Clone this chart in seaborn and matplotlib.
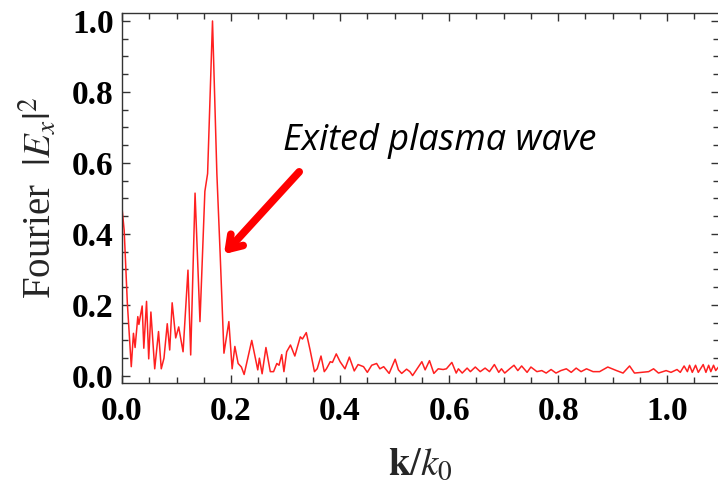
import matplotlib
matplotlib.use("Agg")
import matplotlib.pyplot as plt
from matplotlib.ticker import MultipleLocator
import seaborn as sns
import pandas as pd

# ----- Data -----
k_vals = [
    0.000, 0.004, 0.0098, 0.017, 0.021, 0.024, 0.029, 0.031, 0.037, 0.040,
    0.045, 0.049, 0.053, 0.060, 0.067, 0.072, 0.077, 0.083, 0.0875, 0.092,
    0.0985, 0.104, 0.112, 0.121, 0.126, 0.134, 0.143, 0.152, 0.157, 0.166,
    0.174, 0.180, 0.187, 0.196, 0.202, 0.207, 0.213, 0.219, 0.224, 0.238,
    0.249, 0.252, 0.257, 0.264, 0.272, 0.278, 0.284, 0.288, 0.293, 0.297,
    0.302, 0.309, 0.317, 0.327, 0.331, 0.338, 0.345, 0.353, 0.358, 0.365,
    0.371, 0.375, 0.382, 0.386, 0.393, 0.400, 0.409, 0.417, 0.426, 0.433,
    0.443, 0.450, 0.458, 0.467, 0.473, 0.480, 0.490, 0.501, 0.507, 0.513,
    0.522, 0.528, 0.533, 0.540, 0.550, 0.556, 0.564, 0.572, 0.580, 0.589,
    0.595, 0.605, 0.613, 0.617, 0.624, 0.633, 0.639, 0.648, 0.657, 0.666,
    0.674, 0.683, 0.691, 0.696, 0.702, 0.711, 0.719, 0.726, 0.733, 0.743,
    0.750, 0.761, 0.770, 0.778, 0.787, 0.796, 0.805, 0.815, 0.824, 0.833,
    0.842, 0.852, 0.864, 0.876, 0.891, 0.907, 0.919, 0.931, 0.940, 0.954,
    0.966, 0.975, 0.984, 0.998, 1.007, 1.018, 1.024, 1.031, 1.037, 1.041,
    1.046, 1.052, 1.057, 1.066, 1.071, 1.076, 1.080, 1.085, 1.089, 1.094,
]
fourier_ex2 = [
    0.473, 0.410, 0.205, 0.026, 0.120, 0.080, 0.167, 0.145, 0.197, 0.078,
    0.210, 0.048, 0.180, 0.020, 0.125, 0.020, 0.050, 0.147, 0.073, 0.206,
    0.107, 0.138, 0.068, 0.298, 0.059, 0.515, 0.153, 0.520, 0.570, 1.000,
    0.570, 0.345, 0.064, 0.153, 0.020, 0.083, 0.035, 0.025, 0.004, 0.100,
    0.017, 0.050, 0.006, 0.080, 0.012, 0.012, 0.035, 0.030, 0.060, 0.012,
    0.068, 0.087, 0.056, 0.110, 0.104, 0.122, 0.073, 0.012, 0.020, 0.056,
    0.012, 0.020, 0.040, 0.038, 0.062, 0.040, 0.020, 0.053, 0.014, 0.032,
    0.026, 0.010, 0.030, 0.035, 0.020, 0.026, 0.007, 0.047, 0.017, 0.007,
    0.019, 0.012, 0.001, 0.017, 0.040, 0.017, 0.043, 0.007, 0.020, 0.018,
    0.020, 0.038, 0.008, 0.020, 0.008, 0.022, 0.012, 0.025, 0.012, 0.022,
    0.012, 0.032, 0.010, 0.020, 0.008, 0.020, 0.030, 0.015, 0.028, 0.010,
    0.025, 0.012, 0.015, 0.008, 0.018, 0.008, 0.015, 0.020, 0.010, 0.022,
    0.012, 0.020, 0.012, 0.012, 0.025, 0.015, 0.008, 0.028, 0.008, 0.010,
    0.012, 0.020, 0.008, 0.015, 0.010, 0.018, 0.010, 0.028, 0.012, 0.030,
    0.010, 0.030, 0.010, 0.032, 0.010, 0.030, 0.012, 0.030, 0.015, 0.025,
]
annotation_text = "Exited plasma wave"

df = pd.DataFrame({"k": k_vals, "fourier": fourier_ex2})

# ----- Style -----
sns.set_style("ticks")
plt.rcParams.update({
    "font.family": ["Liberation Serif", "DejaVu Serif"],
    "mathtext.fontset": "stix",
    "axes.edgecolor": "#333333",
    "axes.linewidth": 1.0,
    "xtick.color": "#333333",
    "ytick.color": "#333333",
    "xtick.labelcolor": "black",
    "ytick.labelcolor": "black",
})

# ----- Setup -----
fig = plt.figure(figsize=(7.18, 4.87), dpi=100)
ax = fig.add_axes([122 / 718, 1 - 383 / 487, 597 / 718, 370 / 487])

sns.lineplot(data=df, x="k", y="fourier", sort=False, estimator=None,
             color="#ff2020", linewidth=1.1, ax=ax)

ax.set_xlim(0, 1.095)
ax.set_ylim(-0.02, 1.0225)

ax.xaxis.set_major_locator(MultipleLocator(0.2))
ax.xaxis.set_minor_locator(MultipleLocator(0.05))
ax.yaxis.set_major_locator(MultipleLocator(0.2))
ax.yaxis.set_minor_locator(MultipleLocator(0.05))
ax.tick_params(which="both", direction="in", top=True, right=True, width=1.0)
ax.tick_params(which="major", length=6, labelsize=24)
ax.tick_params(axis="x", which="major", pad=9)
ax.tick_params(axis="y", which="major", pad=6)
ax.tick_params(which="minor", length=4)
ax.xaxis.set_major_formatter(plt.FuncFormatter(lambda v, p: f"{v:.1f}"))
ax.yaxis.set_major_formatter(plt.FuncFormatter(lambda v, p: f"{v:.1f}"))
for lab in ax.get_xticklabels() + ax.get_yticklabels():
    lab.set_fontweight("bold")

ax.set_xlabel(r"$\mathbf{k}/k_0$", fontsize=28, labelpad=15)
ax.set_ylabel(r"Fourier  $|E_x|^2$", fontsize=28, labelpad=9)

# annotation with thick red arrow
ax.annotate("", xy=(0.187, 0.343), xytext=(0.325, 0.575),
            arrowprops=dict(arrowstyle="->,head_length=0.9,head_width=0.6",
                            color="red", lw=5.5, shrinkA=0, shrinkB=0))
ax.text(0.295, 0.637, annotation_text, fontsize=26, style="italic",
        family=["Open Sans", "DejaVu Sans"], color="black",
        ha="left", va="baseline")

fig.savefig("out.png", dpi=100)
